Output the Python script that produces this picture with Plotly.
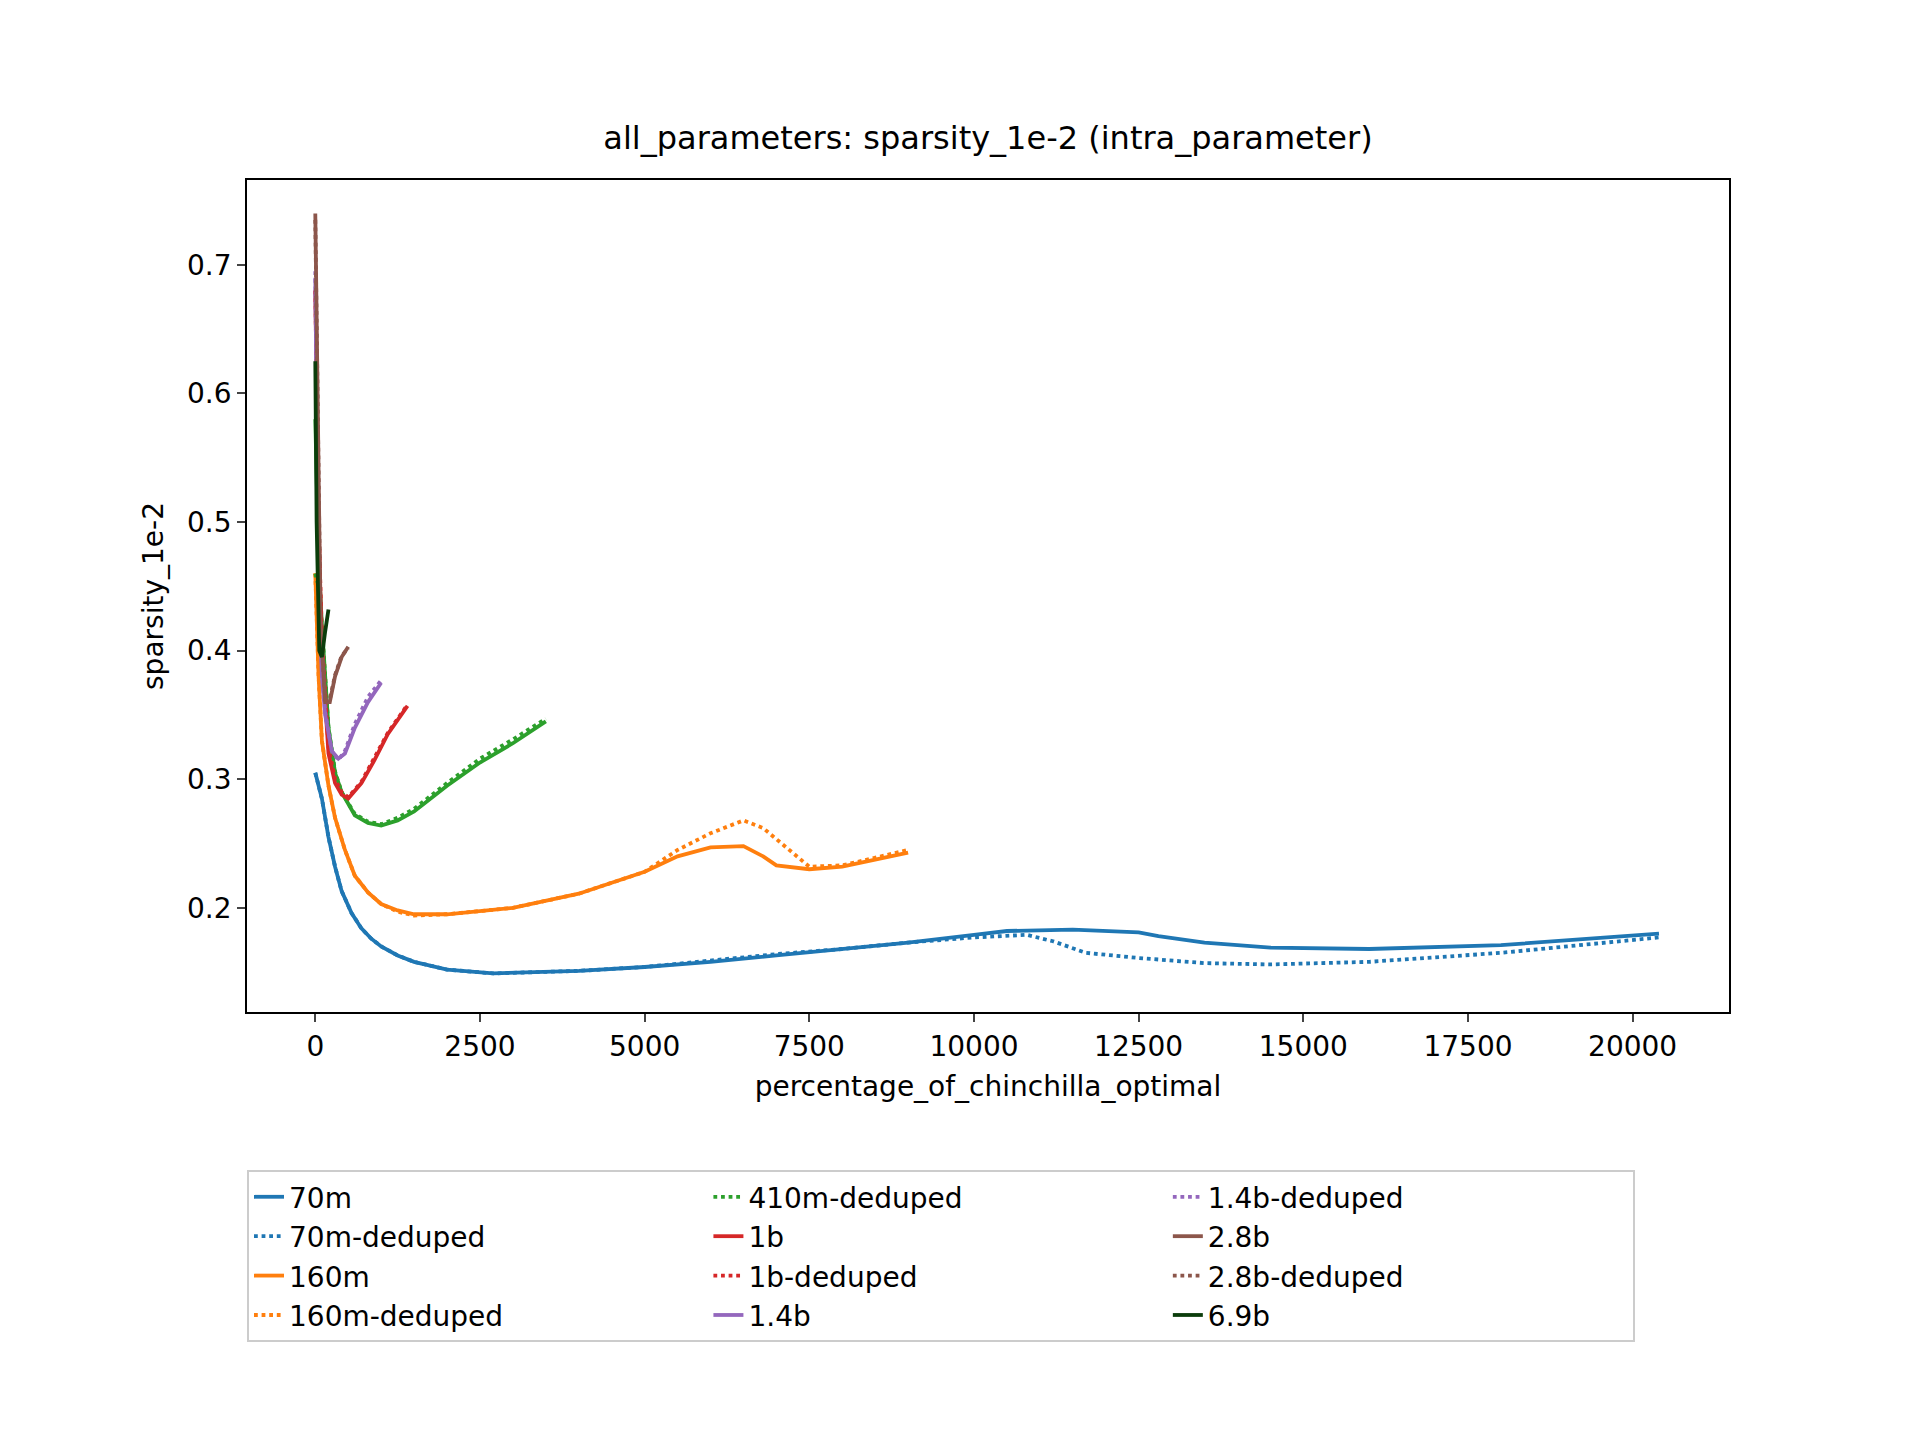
import plotly.graph_objects as go

# values (x = percentage_of_chinchilla_optimal, y = sparsity_1e-2)
x_70m = [0, 100, 200, 300, 400, 550, 700, 850, 1000, 1250, 1500, 2000, 2700, 4000, 5000, 6000, 7000, 8000, 9000, 10000, 10500, 11500, 12500, 12800, 13500, 14500, 16000, 18000, 20400]
y_70m = [0.305, 0.285, 0.255, 0.232, 0.213, 0.196, 0.184, 0.176, 0.17, 0.163, 0.158, 0.152, 0.149, 0.151, 0.154, 0.158, 0.163, 0.168, 0.173, 0.179, 0.182, 0.183, 0.181, 0.178, 0.173, 0.169, 0.168, 0.171, 0.18]
x_70m_d = [0, 100, 200, 300, 400, 550, 700, 850, 1000, 1250, 1500, 2000, 2700, 4000, 5000, 6000, 7000, 8000, 9000, 10000, 10800, 11200, 11700, 12500, 13500, 14500, 16000, 18000, 20400]
y_70m_d = [0.305, 0.285, 0.255, 0.232, 0.213, 0.196, 0.184, 0.176, 0.17, 0.163, 0.158, 0.152, 0.149, 0.151, 0.154, 0.159, 0.164, 0.168, 0.173, 0.177, 0.179, 0.174, 0.165, 0.161, 0.157, 0.156, 0.158, 0.165, 0.177]

x_160m = [0, 50, 100, 200, 300, 450, 600, 800, 1000, 1250, 1500, 2000, 3000, 4000, 5000, 5500, 6000, 6500, 6800, 7000, 7500, 8000, 9000]
y_160m = [0.46, 0.38, 0.33, 0.295, 0.27, 0.245, 0.225, 0.212, 0.203, 0.198, 0.195, 0.195, 0.2, 0.211, 0.228, 0.24, 0.247, 0.248, 0.24, 0.233, 0.23, 0.232, 0.243]
x_160m_d = [0, 50, 100, 200, 300, 450, 600, 800, 1000, 1250, 1500, 2000, 3000, 4000, 5000, 5500, 6000, 6500, 6800, 7200, 7500, 8000, 9000]
y_160m_d = [0.46, 0.38, 0.33, 0.295, 0.27, 0.245, 0.225, 0.212, 0.203, 0.197, 0.194, 0.195, 0.2, 0.211, 0.228, 0.245, 0.258, 0.268, 0.262, 0.245, 0.232, 0.233, 0.245]

x_410m = [0, 50, 100, 200, 300, 400, 600, 800, 1000, 1250, 1500, 2000, 2500, 3000, 3500]
y_410m = [0.58, 0.47, 0.42, 0.34, 0.305, 0.29, 0.272, 0.266, 0.264, 0.268, 0.275, 0.295, 0.313, 0.328, 0.345]
x_410m_d = [0, 50, 100, 200, 300, 400, 600, 800, 1000, 1250, 1500, 2000, 2500, 3000, 3500]
y_410m_d = [0.46, 0.45, 0.42, 0.34, 0.306, 0.29, 0.273, 0.267, 0.265, 0.27, 0.277, 0.297, 0.316, 0.331, 0.347]

x_1b = [0, 50, 100, 200, 300, 400, 500, 700, 900, 1100, 1400]
y_1b = [0.68, 0.5, 0.4, 0.32, 0.297, 0.288, 0.285, 0.297, 0.315, 0.335, 0.357]
x_1b_d = [0, 50, 100, 200, 300, 400, 500, 700, 900, 1100, 1400]
y_1b_d = [0.68, 0.5, 0.41, 0.325, 0.3, 0.29, 0.286, 0.298, 0.317, 0.336, 0.358]

x_14b = [0, 50, 100, 150, 250, 350, 450, 600, 800, 1000]
y_14b = [0.69, 0.45, 0.38, 0.35, 0.322, 0.316, 0.32, 0.34, 0.36, 0.375]
x_14b_d = [0, 50, 100, 150, 250, 350, 450, 600, 800, 1000]
y_14b_d = [0.695, 0.46, 0.385, 0.352, 0.322, 0.315, 0.322, 0.343, 0.364, 0.377]

x_28b = [0, 30, 80, 150, 220, 300, 400, 500]
y_28b = [0.74, 0.6, 0.42, 0.36, 0.36, 0.38, 0.395, 0.403]
x_28b_d = [0, 30, 80, 150, 220, 300, 400, 500]
y_28b_d = [0.735, 0.6, 0.42, 0.362, 0.362, 0.381, 0.396, 0.402]

x_69b = [0, 20, 60, 100, 150, 200]
y_69b = [0.625, 0.5, 0.4, 0.395, 0.415, 0.432]

x_ticks = [0, 2500, 5000, 7500, 10000, 12500, 15000, 17500, 20000]
x_tick_text = ["0", "2500", "5000", "7500", "10000", "12500", "15000", "17500", "20000"]
y_ticks = [0.2, 0.3, 0.4, 0.5, 0.6, 0.7]

series = [
    ("70m", x_70m, y_70m, "#1f77b4", "solid", 1),
    ("70m-deduped", x_70m_d, y_70m_d, "#1f77b4", "dot", 4),
    ("160m", x_160m, y_160m, "#ff7f0e", "solid", 7),
    ("160m-deduped", x_160m_d, y_160m_d, "#ff7f0e", "dot", 10),
    ("410m", x_410m, y_410m, "#2ca02c", "solid", 99),
    ("410m-deduped", x_410m_d, y_410m_d, "#2ca02c", "dot", 2),
    ("1b", x_1b, y_1b, "#d62728", "solid", 5),
    ("1b-deduped", x_1b_d, y_1b_d, "#d62728", "dot", 8),
    ("1.4b", x_14b, y_14b, "#9467bd", "solid", 11),
    ("1.4b-deduped", x_14b_d, y_14b_d, "#9467bd", "dot", 3),
    ("2.8b", x_28b, y_28b, "#8c564b", "solid", 6),
    ("2.8b-deduped", x_28b_d, y_28b_d, "#8c564b", "dot", 9),
    ("6.9b", x_69b, y_69b, "#0b3d0b", "solid", 12),
]

fig = go.Figure()
for name, xs, ys, color, dash, rank in series:
    fig.add_trace(go.Scatter(x=xs, y=ys, mode="lines", name=name,
                             line=dict(color=color, dash=dash, width=3.8),
                             legendrank=rank, showlegend=(rank != 99)))

axis_style = dict(showgrid=False, zeroline=False, showline=True, mirror=True,
                  linecolor="black", linewidth=1.8, ticks="outside", ticklen=8,
                  tickwidth=1.8, tickfont=dict(size=28, color="black"))

fig.update_layout(
    width=1920, height=1440,
    paper_bgcolor="white", plot_bgcolor="white",
    font=dict(family="DejaVu Sans", color="black"),
    margin=dict(l=239, r=199, t=172, b=436),
    title=dict(text="all_parameters: sparsity_1e-2 (intra_parameter)", x=239 / 1920 + (1482 / 1920) / 2,
               xanchor="center", y=1 - 130 / 1440, yanchor="middle", font=dict(size=32)),
    legend=dict(orientation="h", x=0.0, xanchor="left", y=-0.19, yanchor="top",
                entrywidth=0.31, entrywidthmode="fraction", font=dict(size=28),
                bordercolor="#cccccc", borderwidth=2, traceorder="normal"),
)
fig.update_xaxes(range=[-1037, 21463], tickvals=x_ticks, ticktext=x_tick_text,
                 title=dict(text="percentage_of_chinchilla_optimal", font=dict(size=28)), **axis_style)
fig.update_yaxes(range=[0.119, 0.766], tickvals=y_ticks,
                 title=dict(text="sparsity_1e-2", font=dict(size=28)), **axis_style)

fig.write_html("out.html")
